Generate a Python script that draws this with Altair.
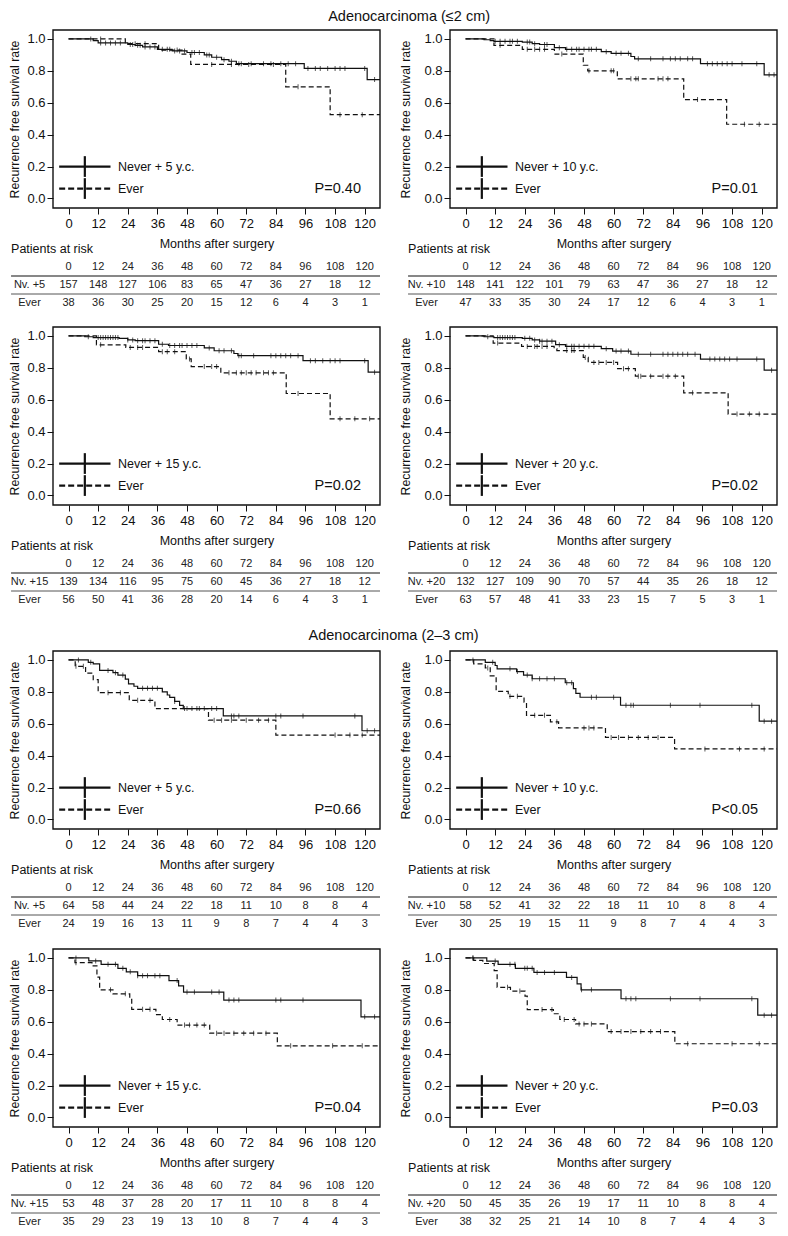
import altair as alt
import pandas as pd

# ---------------------------------------------------------------- data
TIMES = [0, 12, 24, 36, 48, 60, 72, 84, 96, 108, 120]
Y_TICKS = [0.0, 0.2, 0.4, 0.6, 0.8, 1.0]
FOLLOW_UP_END = 126.2
SECTION_TITLES = ["Adenocarcinoma (\u22642 cm)", "Adenocarcinoma (2\u20133 cm)"]

# --- Adenocarcinoma <=2 cm, Never + 5 y.c. vs Ever
a1_label = "Never + 5 y.c."
a1_row = "Nv. +5"
a1_p = "P=0.40"
a1_never_t = [0, 10, 12, 24, 27, 30, 36, 42, 48, 55, 58, 62, 65, 68, 95.5, 121]
a1_never_s = [1.0, 0.99, 0.975, 0.965, 0.96, 0.95, 0.935, 0.925, 0.915, 0.9, 0.885, 0.87, 0.86, 0.845, 0.815, 0.745]
a1_never_c = [9, 13, 15, 17, 19, 21, 25, 26, 28, 29, 31, 33, 35, 38, 40, 41, 43, 45, 47, 50, 51, 53, 56, 57, 60, 63,
              66, 69, 70, 74, 79, 82, 86, 89, 92, 97, 100, 102, 105, 108, 110, 112, 120, 124]
a1_ever_t = [0, 23, 36.5, 46, 49.5, 88, 106]
a1_ever_s = [1.0, 0.97, 0.93, 0.905, 0.84, 0.70, 0.525]
a1_ever_c = [13, 27, 31, 44, 58, 66, 73, 83, 93, 110, 119]
a1_risk_never = [157, 148, 127, 106, 83, 65, 47, 36, 27, 18, 12]
a1_risk_ever = [38, 36, 30, 25, 20, 15, 12, 6, 4, 3, 1]

# --- Adenocarcinoma <=2 cm, Never + 10 y.c. vs Ever
a2_label = "Never + 10 y.c."
a2_row = "Nv. +10"
a2_p = "P=0.01"
a2_never_t = [0, 7.5, 10, 11.5, 23, 27, 30, 36, 40.5, 55, 59, 67, 68.5, 95.2, 121]
a2_never_s = [1.0, 0.995, 0.99, 0.985, 0.98, 0.97, 0.965, 0.945, 0.935, 0.92, 0.91, 0.89, 0.875, 0.845, 0.775]
a2_never_c = [12, 14, 16, 18, 19, 21, 25, 26, 28, 32, 33, 38, 41, 43, 45, 46, 48, 50, 51, 53, 57, 61, 63, 66, 70,
              75, 80, 83, 85, 87, 90, 92, 98, 100, 102, 104, 106, 108, 112, 118, 123, 125]
a2_ever_t = [0, 11.5, 23, 36, 47.7, 49.5, 61.5, 88.4, 105.8]
a2_ever_s = [1.0, 0.96, 0.935, 0.905, 0.835, 0.80, 0.75, 0.62, 0.465]
a2_ever_c = [14, 25, 28, 30, 32, 39, 50, 59, 60, 67, 69, 70, 78, 80, 82, 94, 113, 119]
a2_risk_never = [148, 141, 122, 101, 79, 63, 47, 36, 27, 18, 12]
a2_risk_ever = [47, 33, 35, 30, 24, 17, 12, 6, 4, 3, 1]

# --- Adenocarcinoma <=2 cm, Never + 15 y.c. vs Ever
a3_label = "Never + 15 y.c."
a3_row = "Nv. +15"
a3_p = "P=0.02"
a3_never_t = [0, 6.6, 10, 20.5, 24, 27, 36.5, 40.5, 55, 59, 67, 68.6, 95, 121.4]
a3_never_s = [1.0, 0.995, 0.99, 0.985, 0.975, 0.97, 0.948, 0.94, 0.925, 0.907, 0.89, 0.876, 0.845, 0.773]
a3_never_c = [8, 12, 13, 14, 15, 16, 17, 18, 19, 20, 24, 26, 28, 30, 31, 33, 35, 38, 41, 43, 45, 46, 48, 50, 52,
              57, 61, 63, 66, 69, 70, 75, 82, 84, 86, 88, 90, 93, 98, 100, 103, 106, 108, 110, 120, 124]
a3_ever_t = [0, 11.3, 23.2, 36.5, 47.7, 49.7, 61.7, 88.2, 106]
a3_ever_s = [1.0, 0.944, 0.928, 0.901, 0.856, 0.808, 0.769, 0.639, 0.48]
a3_ever_c = [13, 25, 28, 30, 38, 40, 43, 49, 55, 58, 60, 65, 68, 70, 72, 74, 76, 79, 81, 83, 93, 110, 116, 122]
a3_risk_never = [139, 134, 116, 95, 75, 60, 45, 36, 27, 18, 12]
a3_risk_ever = [56, 50, 41, 36, 28, 20, 14, 6, 4, 3, 1]

# --- Adenocarcinoma <=2 cm, Never + 20 y.c. vs Ever
a4_label = "Never + 20 y.c."
a4_row = "Nv. +20"
a4_p = "P=0.02"
a4_never_t = [0, 7.5, 11.5, 23, 27, 30, 36.5, 40.5, 55, 59.6, 67, 95.2, 121]
a4_never_s = [1.0, 0.995, 0.99, 0.985, 0.975, 0.967, 0.945, 0.935, 0.92, 0.905, 0.885, 0.855, 0.785]
a4_never_c = [9, 13, 14, 15, 16, 17, 18, 19, 20, 24, 26, 28, 30, 31, 33, 35, 38, 41, 43, 44, 46, 48, 50, 52, 57,
              61, 63, 66, 70, 75, 80, 82, 84, 86, 88, 90, 93, 99, 101, 103, 105, 107, 110, 118, 124]
a4_ever_t = [0, 11.2, 22.7, 35.9, 37, 47.7, 49.7, 61.6, 68.8, 88.4, 106.4]
a4_ever_s = [1.0, 0.955, 0.934, 0.92, 0.908, 0.865, 0.834, 0.795, 0.748, 0.643, 0.51]
a4_ever_c = [13, 25, 28, 29, 31, 33, 41, 43, 44, 48.5, 52, 54, 57, 60, 64, 66, 70, 71, 75, 80, 82, 85, 92, 110,
             115, 119]
a4_risk_never = [132, 127, 109, 90, 70, 57, 44, 35, 26, 18, 12]
a4_risk_ever = [63, 57, 48, 41, 33, 23, 15, 7, 5, 3, 1]

# --- Adenocarcinoma 2-3 cm, Never + 5 y.c. vs Ever
b1_label = "Never + 5 y.c."
b1_row = "Nv. +5"
b1_p = "P=0.66"
b1_never_t = [0, 8, 10, 12.6, 18, 20, 23, 24.3, 26.5, 28, 38, 40, 41, 43, 45, 46.5, 62.7, 118.9]
b1_never_s = [1.0, 0.985, 0.975, 0.934, 0.92, 0.905, 0.88, 0.85, 0.835, 0.822, 0.8, 0.78, 0.765, 0.74, 0.715,
              0.695, 0.649, 0.556]
b1_never_c = [4, 9, 16, 19, 22, 30, 32, 34, 36, 43, 48, 50, 53, 55, 58, 60, 66, 67, 69, 84, 86, 95, 116, 121, 124]
b1_ever_t = [0, 2.7, 6.9, 10, 12, 24.6, 35, 56.7, 84]
b1_ever_s = [1.0, 0.96, 0.917, 0.876, 0.795, 0.747, 0.695, 0.622, 0.529]
b1_ever_c = [3, 6, 16, 21, 28, 33, 47, 52, 59, 62, 66, 72, 77, 81, 108, 114, 119]
b1_risk_never = [64, 58, 44, 24, 22, 18, 11, 10, 8, 8, 4]
b1_risk_ever = [24, 19, 16, 13, 11, 9, 8, 7, 4, 4, 3]

# --- Adenocarcinoma 2-3 cm, Never + 10 y.c. vs Ever
b2_label = "Never + 10 y.c."
b2_row = "Nv. +10"
b2_p = "P<0.05"
b2_never_t = [0, 8, 12, 12.8, 20.7, 23.5, 27, 40.4, 43.7, 44.7, 46.4, 62.8, 119]
b2_never_s = [1.0, 0.985, 0.965, 0.944, 0.927, 0.905, 0.882, 0.857, 0.82, 0.79, 0.766, 0.716, 0.616]
b2_never_c = [11, 18, 21, 25, 27, 30, 33, 36, 41, 43, 51, 53, 60, 65, 67, 68, 83, 95, 116, 121, 124]
b2_ever_t = [0, 3.3, 8, 10, 12.4, 17.3, 23.7, 24.7, 34.4, 37.7, 56.7, 84.7]
b2_ever_s = [1.0, 0.975, 0.95, 0.9, 0.803, 0.772, 0.735, 0.653, 0.612, 0.574, 0.514, 0.442]
b2_ever_c = [3, 9, 18, 21, 28, 32, 37, 48, 50, 52, 59, 62, 66, 70, 74, 78, 97, 111, 121]
b2_risk_never = [58, 52, 41, 32, 22, 18, 11, 10, 8, 8, 4]
b2_risk_ever = [30, 25, 19, 15, 11, 9, 8, 7, 4, 4, 3]

# --- Adenocarcinoma 2-3 cm, Never + 15 y.c. vs Ever
b3_label = "Never + 15 y.c."
b3_row = "Nv. +15"
b3_p = "P=0.04"
b3_never_t = [0, 8.2, 13.2, 20, 23.4, 28, 40.7, 44.6, 46.6, 62.9, 118.5]
b3_never_s = [1.0, 0.981, 0.96, 0.935, 0.913, 0.889, 0.858, 0.825, 0.786, 0.736, 0.631]
b3_never_c = [3, 11, 16, 19, 22, 25, 28, 30, 32, 35, 37, 44, 48, 51, 58, 61, 65, 67, 69, 84, 86, 95, 120, 124]
b3_ever_t = [0, 2.6, 9.5, 11.5, 12.6, 18, 24.8, 25.6, 35.4, 38, 44, 57.2, 84.6]
b3_ever_s = [1.0, 0.97, 0.95, 0.88, 0.8, 0.775, 0.74, 0.678, 0.645, 0.614, 0.579, 0.528, 0.449]
b3_ever_c = [3, 17, 23, 30, 33, 41, 47, 49, 52, 55, 60, 63, 67, 71, 75, 80, 90, 107, 119]
b3_risk_never = [53, 48, 37, 28, 20, 17, 11, 10, 8, 8, 4]
b3_risk_ever = [35, 29, 23, 19, 13, 10, 8, 7, 4, 4, 3]

# --- Adenocarcinoma 2-3 cm, Never + 20 y.c. vs Ever
b4_label = "Never + 20 y.c."
b4_row = "Nv. +20"
b4_p = "P=0.03"
b4_never_t = [0, 8.6, 13.2, 20.2, 27.7, 40.9, 45.2, 46.8, 63, 118.4]
b4_never_s = [1.0, 0.98, 0.96, 0.935, 0.909, 0.878, 0.837, 0.8, 0.744, 0.641]
b4_never_c = [3, 12, 18, 20, 24, 25, 27, 29, 32, 36, 43, 47, 51, 65, 67, 69, 83, 95, 116, 121, 124]
b4_ever_t = [0, 3.3, 7, 11.6, 12.8, 18.2, 24.1, 25, 35.6, 38.2, 44.6, 57.4, 84.8]
b4_ever_s = [1.0, 0.985, 0.965, 0.92, 0.816, 0.792, 0.76, 0.676, 0.65, 0.614, 0.586, 0.538, 0.462]
b4_ever_c = [3, 17, 22, 31, 35, 40, 44, 46, 48, 51, 59, 63, 67, 71, 75, 79, 90, 108, 119]
b4_risk_never = [50, 45, 35, 26, 19, 17, 11, 10, 8, 8, 4]
b4_risk_ever = [38, 32, 25, 21, 14, 10, 8, 7, 4, 4, 3]

# ---------------------------------------------------------------- style / layout
INK = "#111111"
FONT = "Liberation Sans"
X_DOMAIN = [-6.3, FOLLOW_UP_END]
Y_DOMAIN = [-0.06, 1.056]
PW, PH = 327, 178
COL_GAP = 70
ROW_STEP = 18          # px between table rows
TABLE_TOP_GAP = 41     # px from plot bottom to "Patients at risk"
TABLE_LEFT = -23.3     # months, left end of table rules
ROW_LABEL_X = -15.8    # months, centre of row labels
LEG_X0, LEG_X1, LEG_CROSS, LEG_TEXT_X = -3.8, 17.0, 6.6, 20.0
LEG_Y = [0.2, 0.062]
LEG_HALF = 0.065
P_X, P_Y = 118.5, 0.058
PX_PER_UNIT_Y = PH / (Y_DOMAIN[1] - Y_DOMAIN[0])


def step_value(ts, ss, c):
    v = ss[0]
    for t, s in zip(ts, ss):
        if t <= c:
            v = s
    return v


def x_scale():
    return alt.Scale(domain=X_DOMAIN, nice=False, zero=False)


def x_axis():
    return alt.Axis(values=TIMES, title="Months after surgery", domain=False, grid=False,
                    tickSize=6, tickColor=INK, tickWidth=1, labelFont=FONT, labelFontSize=13,
                    labelColor=INK, labelPadding=3, labelFlush=False, labelOverlap=False,
                    titleFont=FONT, titleFontSize=12.5, titleFontWeight="normal",
                    titleColor=INK, titlePadding=7)


def y_axis(tp):
    return alt.Axis(values=Y_TICKS, format=".1f", title="Recurrence free survival rate",
                    domain=False, grid=False, tickSize=6, tickColor=INK, tickWidth=1,
                    labelFont=FONT, labelFontSize=13, labelColor=INK, labelPadding=2,
                    labelFlush=False, labelOverlap=False, titleFont=FONT, titleFontSize=12.3,
                    titleFontWeight="normal", titleColor=INK, titlePadding=tp)


def make_plot(label, ptxt, nt, ns, nc, et, es, ec, ytp, title=None, title_x=0.0, title_gap=14):
    def X(f):
        return alt.X(f, type="quantitative", scale=x_scale(), axis=x_axis())

    def Y(f):
        return alt.Y(f, type="quantitative",
                     scale=alt.Scale(domain=Y_DOMAIN, nice=False, zero=False), axis=y_axis(ytp))

    never = pd.DataFrame({"t": nt + [FOLLOW_UP_END], "s": ns + [ns[-1]]})
    ever = pd.DataFrame({"t": et + [FOLLOW_UP_END], "s": es + [es[-1]]})
    cn = pd.DataFrame({"t": nc, "s": [step_value(nt, ns, c) for c in nc]})
    ce = pd.DataFrame({"t": ec, "s": [step_value(et, es, c) for c in ec]})

    frame = alt.Chart(pd.DataFrame({"k": [0]})).mark_rect(
        fillOpacity=0, stroke=INK, strokeWidth=1.4).encode(
        x=alt.value(0), x2=alt.value("width"), y=alt.value(0), y2=alt.value("height"))
    line_n = alt.Chart(never).mark_line(interpolate="step-after", color=INK, strokeWidth=1.2).encode(
        x=X("t"), y=Y("s"))
    line_e = alt.Chart(ever).mark_line(interpolate="step-after", color=INK, strokeWidth=1.2,
                                       strokeDash=[5, 3]).encode(x=X("t"), y=Y("s"))
    tick_n = alt.Chart(cn).mark_tick(orient="vertical", size=5, thickness=1, color=INK).encode(
        x=X("t"), y=Y("s"))
    tick_e = alt.Chart(ce).mark_tick(orient="vertical", size=5, thickness=1, color=INK).encode(
        x=X("t"), y=Y("s"))

    leg = pd.DataFrame({
        "x": [LEG_X0, LEG_X0], "x2": [LEG_X1, LEG_X1], "y": LEG_Y,
        "yl": [v - LEG_HALF for v in LEG_Y], "yh": [v + LEG_HALF for v in LEG_Y],
        "cx": [LEG_CROSS, LEG_CROSS], "tx": [LEG_TEXT_X, LEG_TEXT_X], "label": [label, "Ever"]})
    leg_solid = alt.Chart(leg.iloc[:1]).mark_rule(color=INK, strokeWidth=2.2).encode(
        x=X("x"), x2="x2:Q", y=Y("y"))
    leg_dash = alt.Chart(leg.iloc[1:]).mark_rule(color=INK, strokeWidth=2.2, strokeDash=[6, 3]).encode(
        x=X("x"), x2="x2:Q", y=Y("y"))
    leg_cross = alt.Chart(leg).mark_rule(color=INK, strokeWidth=2.2).encode(
        x=X("cx"), y=Y("yl"), y2="yh:Q")
    leg_text = alt.Chart(leg).mark_text(align="left", baseline="middle", font=FONT, fontSize=12.5,
                                        color=INK).encode(x=X("tx"), y=Y("y"), text="label:N")
    pdf = pd.DataFrame({"x": [P_X], "y": [P_Y], "label": [ptxt]})
    p_text = alt.Chart(pdf).mark_text(align="right", baseline="middle", font=FONT, fontSize=14.5,
                                      color=INK).encode(x=X("x"), y=Y("y"), text="label:N")

    layers = [frame, line_n, line_e, tick_n, tick_e, leg_solid, leg_dash, leg_cross, leg_text, p_text]
    if title:
        tdf = pd.DataFrame({"x": [title_x], "y": [Y_DOMAIN[1] + title_gap / PX_PER_UNIT_Y],
                            "label": [title]})
        layers.append(alt.Chart(tdf).mark_text(align="center", baseline="middle", font=FONT,
                                               fontSize=14.5, color=INK).encode(
            x=X("x"), y=Y("y"), text="label:N"))
    return alt.layer(*layers).properties(width=PW, height=PH)


def make_table(row_label, nv, ev, height):
    d0 = -1 - TABLE_TOP_GAP / ROW_STEP
    d1 = d0 + height / ROW_STEP

    def X(f):
        return alt.X(f, type="quantitative", scale=x_scale(), axis=None)

    def Y(f):
        return alt.Y(f, type="quantitative",
                     scale=alt.Scale(domain=[d0, d1], reverse=True, nice=False, zero=False),
                     axis=None)

    cap = pd.DataFrame({"x": [TABLE_LEFT], "r": [-1], "label": ["Patients at risk"]})
    head = pd.DataFrame({"x": TIMES, "r": [0] * len(TIMES), "label": [str(t) for t in TIMES]})
    body = pd.DataFrame({"x": TIMES + TIMES, "r": [1] * len(TIMES) + [2] * len(TIMES),
                         "label": [str(v) for v in nv + ev]})
    rlab = pd.DataFrame({"x": [ROW_LABEL_X, ROW_LABEL_X], "r": [1, 2], "label": [row_label, "Ever"]})
    rule1 = pd.DataFrame({"x": [TABLE_LEFT], "x2": [X_DOMAIN[1]], "r": [0.5]})
    rule2 = pd.DataFrame({"x": [TABLE_LEFT], "x2": [X_DOMAIN[1]], "r": [1.5]})

    t_cap = alt.Chart(cap).mark_text(align="left", baseline="middle", font=FONT, fontSize=12.5,
                                     color=INK).encode(x=X("x"), y=Y("r"), text="label:N")
    t_head = alt.Chart(head).mark_text(align="center", baseline="middle", font=FONT, fontSize=11,
                                       color="#222222").encode(x=X("x"), y=Y("r"), text="label:N")
    t_body = alt.Chart(body).mark_text(align="center", baseline="middle", font=FONT, fontSize=11,
                                       color="#222222").encode(x=X("x"), y=Y("r"), text="label:N")
    t_rlab = alt.Chart(rlab).mark_text(align="center", baseline="middle", font=FONT, fontSize=11,
                                       color="#222222").encode(x=X("x"), y=Y("r"), text="label:N")
    r1 = alt.Chart(rule1).mark_rule(color=INK, strokeWidth=1.2).encode(x=X("x"), x2="x2:Q", y=Y("r"))
    r2 = alt.Chart(rule2).mark_rule(color="#555555", strokeWidth=1).encode(x=X("x"), x2="x2:Q", y=Y("r"))
    return alt.layer(r1, r2, t_cap, t_head, t_body, t_rlab).properties(width=PW, height=height)


TP_L, TP_R = 5, 11
cells = [
    make_plot(a1_label, a1_p, a1_never_t, a1_never_s, a1_never_c, a1_ever_t, a1_ever_s, a1_ever_c, TP_L,
              title=SECTION_TITLES[0], title_x=138.0, title_gap=13),
    make_plot(a2_label, a2_p, a2_never_t, a2_never_s, a2_never_c, a2_ever_t, a2_ever_s, a2_ever_c, TP_R),
    make_table(a1_row, a1_risk_never, a1_risk_ever, 119),
    make_table(a2_row, a2_risk_never, a2_risk_ever, 119),
    make_plot(a3_label, a3_p, a3_never_t, a3_never_s, a3_never_c, a3_ever_t, a3_ever_s, a3_ever_c, TP_L),
    make_plot(a4_label, a4_p, a4_never_t, a4_never_s, a4_never_c, a4_ever_t, a4_ever_s, a4_ever_c, TP_R),
    make_table(a3_row, a3_risk_never, a3_risk_ever, 146),
    make_table(a4_row, a4_risk_never, a4_risk_ever, 146),
    make_plot(b1_label, b1_p, b1_never_t, b1_never_s, b1_never_c, b1_ever_t, b1_ever_s, b1_ever_c, TP_L,
              title=SECTION_TITLES[1], title_x=131.7, title_gap=15),
    make_plot(b2_label, b2_p, b2_never_t, b2_never_s, b2_never_c, b2_ever_t, b2_ever_s, b2_ever_c, TP_R),
    make_table(b1_row, b1_risk_never, b1_risk_ever, 120),
    make_table(b2_row, b2_risk_never, b2_risk_ever, 120),
    make_plot(b3_label, b3_p, b3_never_t, b3_never_s, b3_never_c, b3_ever_t, b3_ever_s, b3_ever_c, TP_L),
    make_plot(b4_label, b4_p, b4_never_t, b4_never_s, b4_never_c, b4_ever_t, b4_ever_s, b4_ever_c, TP_R),
    make_table(b3_row, b3_risk_never, b3_risk_ever, 98),
    make_table(b4_row, b4_risk_never, b4_risk_ever, 98),
]

chart = alt.concat(*cells, columns=2, spacing={"row": 0, "column": COL_GAP}, align="each",
                   bounds="flush", padding=0).configure_view(strokeWidth=0)

chart.save("out.html", embed_options={"renderer": "svg", "actions": False})
